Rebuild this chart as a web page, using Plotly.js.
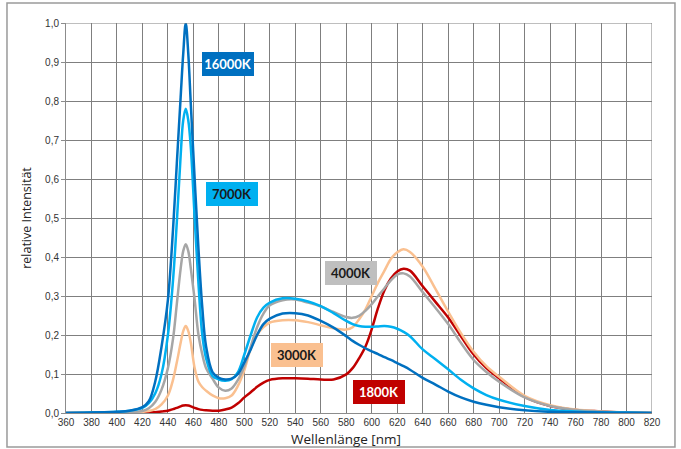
<!DOCTYPE html>
<html>
<head>
<meta charset="utf-8">
<script src="https://cdn.plot.ly/plotly-3.0.1.min.js"></script>
<style>
html,body{margin:0;padding:0;background:#fff;}
#chart{width:681px;height:449px;}
</style>
</head>
<body>
<div id="chart"></div>
<script>
// Wavelengths (nm)
const wavelengths = [360,400,410,420,425,430,435,440,444,447,450,452,454,456,458,461,464,467,470,475,480,485,490,495,500,505,510,515,520,530,540,550,560,570,580,585,590,595,600,605,610,615,620,625,630,640,650,660,670,680,690,700,720,740,760,780,800,820];

// relative intensities
const k16000 = [0,0.003,0.006,0.015,0.03,0.08,0.17,0.29,0.47,0.64,0.81,0.92,1.0,0.92,0.79,0.6,0.42,0.27,0.17,0.105,0.09,0.086,0.088,0.1,0.13,0.163,0.2,0.228,0.242,0.255,0.256,0.25,0.236,0.219,0.197,0.185,0.175,0.166,0.158,0.151,0.143,0.136,0.128,0.12,0.111,0.09,0.073,0.055,0.04,0.029,0.021,0.015,0.007,0.003,0.002,0.001,0.0005,0];
const k7000 = [0,0.003,0.006,0.013,0.025,0.05,0.1,0.2,0.34,0.49,0.66,0.75,0.78,0.75,0.68,0.5,0.33,0.2,0.14,0.095,0.086,0.083,0.087,0.105,0.15,0.2,0.245,0.27,0.283,0.294,0.293,0.286,0.274,0.256,0.236,0.228,0.223,0.221,0.221,0.222,0.223,0.221,0.216,0.208,0.197,0.163,0.138,0.112,0.085,0.063,0.046,0.034,0.018,0.008,0.004,0.002,0.001,0];
const k4000 = [0,0.002,0.003,0.005,0.012,0.028,0.06,0.115,0.19,0.28,0.37,0.415,0.433,0.415,0.37,0.29,0.2,0.15,0.115,0.088,0.065,0.057,0.063,0.085,0.12,0.17,0.22,0.255,0.276,0.289,0.291,0.283,0.273,0.259,0.246,0.244,0.249,0.262,0.279,0.3,0.32,0.34,0.355,0.358,0.35,0.31,0.27,0.228,0.18,0.136,0.105,0.08,0.04,0.018,0.008,0.004,0.0015,0];
const k3000 = [0,0.001,0.001,0.003,0.005,0.01,0.022,0.045,0.085,0.13,0.18,0.21,0.223,0.21,0.18,0.115,0.08,0.066,0.057,0.045,0.038,0.038,0.045,0.07,0.11,0.165,0.2,0.22,0.232,0.238,0.238,0.233,0.225,0.217,0.214,0.22,0.24,0.265,0.3,0.335,0.365,0.395,0.412,0.42,0.413,0.375,0.318,0.26,0.205,0.157,0.12,0.093,0.044,0.02,0.009,0.004,0.001,0];
const k1800 = [0,0,0,0.001,0.0015,0.002,0.004,0.006,0.01,0.013,0.017,0.019,0.02,0.019,0.017,0.013,0.01,0.008,0.007,0.006,0.006,0.009,0.014,0.025,0.04,0.053,0.067,0.078,0.085,0.089,0.089,0.088,0.086,0.086,0.099,0.115,0.14,0.17,0.215,0.27,0.315,0.345,0.363,0.37,0.365,0.325,0.285,0.245,0.197,0.15,0.115,0.089,0.041,0.018,0.008,0.004,0.001,0];

const seriesNames = ['1800K','3000K','4000K','7000K','16000K'];
const seriesColors = ['#C00000','#FAC090','#A6A6A6','#00B0F0','#0070C0'];
const seriesData = [k1800,k3000,k4000,k7000,k16000];

const xTicks = [360,380,400,420,440,460,480,500,520,540,560,580,600,620,640,660,680,700,720,740,760,780,800,820];
const yTicks = [0,0.1,0.2,0.3,0.4,0.5,0.6,0.7,0.8,0.9,1.0];
const yTickLabels = ['0,0','0,1','0,2','0,3','0,4','0,5','0,6','0,7','0,8','0,9','1,0'];

// label boxes
const labelText = ['16000K','7000K','4000K','3000K','1800K'];
const labelX = [486.8,490.3,583.7,541.3,605.7];
const labelY = [0.895,0.5615,0.358,0.15,0.054];
const labelBg = ['#0070C0','#00B0F0','#BFBFBF','#FAC090','#C00000'];
const labelFg = ['#ffffff','#1a1a1a','#1a1a1a','#1a1a1a','#ffffff'];

const traces = seriesData.map((vals,i)=>({
  type:'scatter', mode:'lines', name:seriesNames[i],
  x:wavelengths, y:vals,
  line:{color:seriesColors[i], width:2.5, shape:'spline', smoothing:1},
  hoverinfo:'skip'
}));

const annotations = labelText.map((t,i)=>({
  x:labelX[i], y:labelY[i], xref:'x', yref:'y',
  text:'<b>'+t+'</b>', showarrow:false,
  bgcolor:labelBg[i], font:{family:'Lato, "Open Sans", sans-serif', size:13, color:labelFg[i]},
  width:52, height:24, borderpad:0, borderwidth:0, xanchor:'center', yanchor:'middle'
}));
annotations.push({
  xref:'paper', yref:'paper', x:0.478, y:-0.067, xanchor:'center', yanchor:'middle',
  text:'Wellenlänge [nm]', showarrow:false,
  font:{family:'"Open Sans", sans-serif', size:13.5, color:'#222222'}
});

const layout = {
  width:681, height:449,
  margin:{l:66, r:29, t:23, b:36},
  paper_bgcolor:'#ffffff', plot_bgcolor:'#ffffff',
  showlegend:false,
  xaxis:{
    range:[360,820], tickvals:xTicks, ticktext:xTicks.map(String),
    showgrid:true, gridcolor:'#7f7f7f', gridwidth:1,
    zeroline:false, showline:true, linecolor:'#8c8c8c', linewidth:1,
    ticks:'', tickfont:{family:'"Liberation Sans", Arial, sans-serif', size:10, color:'#333333'}
  },
  yaxis:{
    range:[0,1.0], tickvals:yTicks, ticktext:yTickLabels,
    showgrid:true, gridcolor:'#7f7f7f', gridwidth:1,
    zeroline:false, showline:true, linecolor:'#8c8c8c', linewidth:1,
    ticks:'outside', ticklen:4, tickcolor:'#8c8c8c',
    tickfont:{family:'"Liberation Sans", Arial, sans-serif', size:10, color:'#333333'},
    title:{text:'relative Intensität', font:{family:'"Open Sans", sans-serif', size:12.5, color:'#222222'}, standoff:10}
  },
  annotations: annotations,
  shapes:[
    {type:'line', xref:'x', yref:'paper', x0:820, x1:820, y0:0, y1:1, line:{color:'#7f7f7f', width:1}},
    {type:'line', xref:'paper', yref:'y', x0:0, x1:1, y0:1, y1:1, line:{color:'#7f7f7f', width:1}},
    {type:'rect', xref:'paper', yref:'paper', x0:-0.1007, x1:1.0392, y0:-0.0872, y1:1.0513, line:{color:'#9a9a9a', width:1.5}, fillcolor:'rgba(0,0,0,0)'}
  ]
};

Plotly.newPlot('chart', traces, layout, {displayModeBar:false, staticPlot:true});
</script>
</body>
</html>
